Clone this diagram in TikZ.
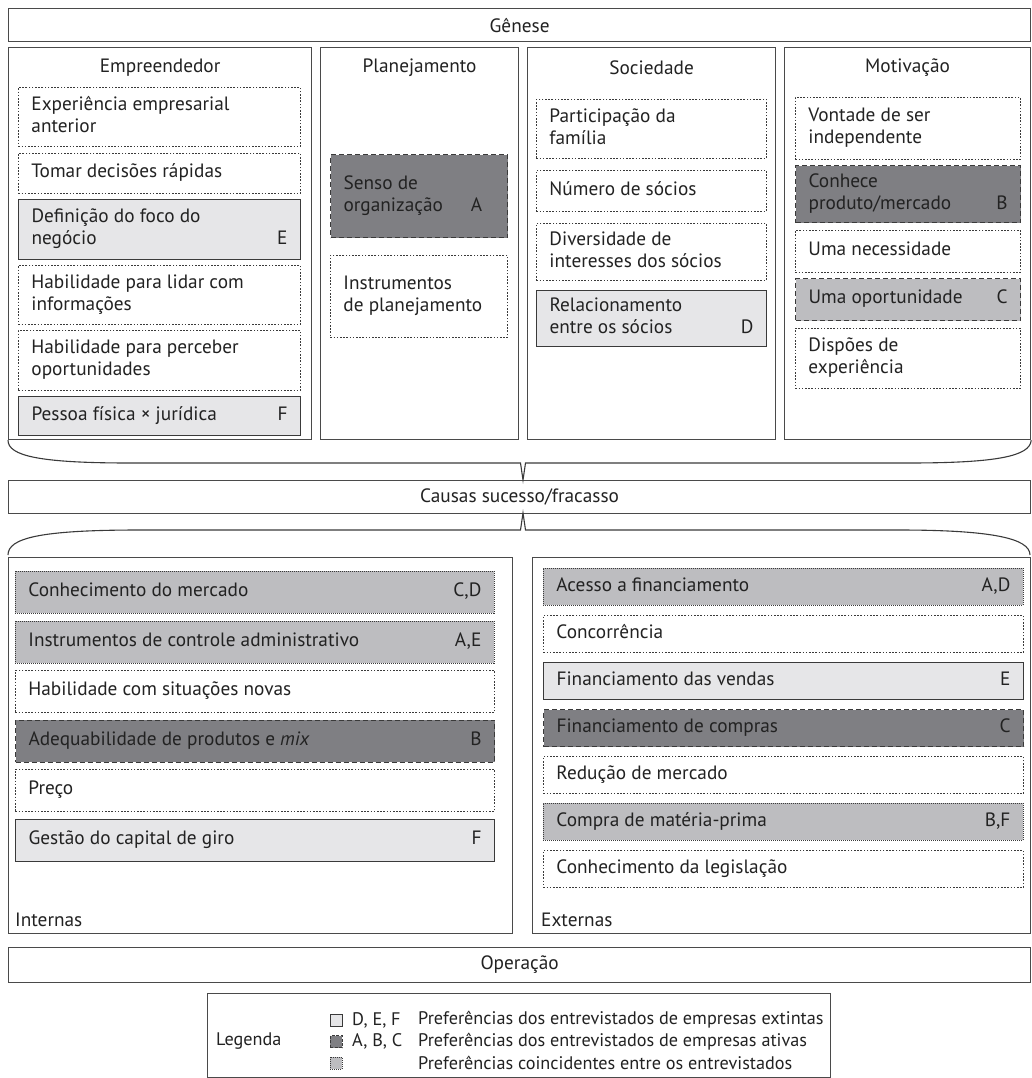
\documentclass[tikz,border=0pt]{standalone}
\usepackage{fontspec}
\setmainfont{PT Sans}
\usetikzlibrary{calc}
\definecolor{lightf}{HTML}{E6E6E8}
\definecolor{darkf}{HTML}{7F7F83}
\definecolor{midf}{HTML}{BDBDC0}
\definecolor{bord}{HTML}{3A3A3A}
\definecolor{frm}{HTML}{4A4A4A}
\definecolor{txtc}{HTML}{222222}
\tikzset{
  every node/.style={font=\fontsize{19.3}{22}\selectfont, inner sep=0pt, text=txtc},
  legtext/.style={font=\fontsize{18.2}{21}\selectfont},
  frame/.style={draw=frm, line width=1.2pt, fill=white},
  dotbox/.style={draw=bord, line width=0.9pt, dash pattern=on 1.6pt off 1.6pt, fill=white},
  solbox/.style={draw=bord, line width=1.1pt, fill=lightf},
  dashbox/.style={draw=bord, line width=1.1pt, dash pattern=on 5pt off 3pt, fill=darkf},
  dashmid/.style={draw=bord, line width=1.1pt, dash pattern=on 5pt off 3pt, fill=midf},
  coinbox/.style={draw=bord, line width=0.8pt, dash pattern=on 1pt off 1pt, fill=midf},
  bracestyle/.style={draw=bord, line width=1.1pt},
}
\newcommand\itm[7]{\node[#2, anchor=north west, minimum width={(#5-#3)*1pt}, minimum height={(#6-#4)*1pt}] (#1) at (#3,#4) {\begin{tabular*}{\dimexpr#5pt-#3pt-26pt\relax}{@{}l@{\extracolsep{\fill}}r@{}}#7\end{tabular*}};}
\newcommand\frm[5]{\node[frame, anchor=north west, minimum width={(#4-#2)*1pt}, minimum height={(#5-#3)*1pt}] (#1) at (#2,#3) {};}
\begin{document}
\begin{tikzpicture}[x=1pt,y=-1pt]
\useasboundingbox (0,0) rectangle (1032,1078);
% Genese
\frm{gen}{8}{8}{1030}{41}
\node (genT) at (gen.center) {Gênese};
% columns
\frm{emp}{8}{47}{311}{439}
\frm{pla}{320}{47}{518}{439}
\frm{soc}{527}{47}{775}{439}
\frm{mot}{784}{47}{1030}{439}
\node (empT) at ($(emp.north)+(0,21)$) {Empreendedor};
\node (plaT) at ($(pla.north)+(0,21)$) {Planejamento};
\node (socT) at ($(soc.north)+(0,21)$) {Sociedade};
\node (motT) at ($(mot.north)+(0,21)$) {Motivação};
% Empreendedor items
\itm{e1}{dotbox}{18}{87}{300}{146}{Experiência empresarial & \\ anterior &}
\itm{e2}{dotbox}{18}{153}{300}{193}{Tomar decisões rápidas &}
\itm{e3}{solbox}{18}{199}{300}{259}{Definição do foco do & \\ negócio & E}
\itm{e4}{dotbox}{18}{265}{300}{324}{Habilidade para lidar com & \\ informações &}
\itm{e5}{dotbox}{18}{330}{300}{390}{Habilidade para perceber & \\ oportunidades &}
\itm{e6}{solbox}{18}{396}{300}{435}{Pessoa física × jurídica & F}
% Planejamento
\itm{p1}{dashbox}{330}{154}{507}{237}{Senso de & \\ organização\hspace{28pt}A &}
\itm{p2}{dotbox}{330}{255}{507}{337}{Instrumentos & \\ de planejamento &}
% Sociedade
\itm{s1}{dotbox}{536}{99}{766}{158}{Participação da & \\ família &}
\itm{s2}{dotbox}{536}{170}{766}{211}{Número de sócios &}
\itm{s3}{dotbox}{536}{223}{766}{280}{Diversidade de & \\ interesses dos sócios &}
\itm{s4}{solbox}{536}{290}{766}{346}{Relacionamento & \\ entre os sócios & D\hspace{6pt}}
% Motivacao
\itm{m1}{dotbox}{795}{97}{1020}{159}{Vontade de ser & \\ independente &}
\itm{m2}{dashbox}{795}{165}{1020}{222}{Conhece & \\ produto/mercado & B}
\itm{m3}{dotbox}{795}{230}{1020}{272}{Uma necessidade &}
\itm{m4}{dashmid}{795}{278}{1020}{320}{Uma oportunidade & C}
\itm{m5}{dotbox}{795}{328}{1020}{388}{Dispões de & \\ experiência &}
% Causas
\frm{cau}{8}{480}{1030}{513}
\node (cauT) at (cau.center) {Causas sucesso/fracasso};
% upper brace
\coordinate (t1) at (523,480);
\draw[bracestyle] (emp.south west) .. controls (8,456) and (40,463) .. (130,463) -- (520.5,463) -- (t1) -- (525.5,463) -- (908,463) .. controls (998,463) and (1030,456) .. (mot.south east);
% lower brace
\coordinate (t2) at (523,513);
\coordinate (lb) at (8,555);
\coordinate (rb) at (1030,555);
\draw[bracestyle] (lb) .. controls (8,538) and (40,530) .. (140,530) -- (520.5,530) -- (t2) -- (525.5,530) -- (898,530) .. controls (990,530) and (1030,538) .. (rb);
% Internas / Externas
\frm{int}{8}{557}{512}{933}
\frm{ext}{532}{557}{1030}{933}
\node[anchor=west] (intT) at (15,920) {Internas};
\node[anchor=west] (extT) at (541,920) {Externas};
\itm{i1}{coinbox}{15}{571}{494}{613}{Conhecimento do mercado & C,D}
\itm{i2}{coinbox}{15}{620.5}{494}{662.5}{Instrumentos de controle administrativo & A,E}
\itm{i3}{dotbox}{15}{670}{494}{712}{Habilidade com situações novas &}
\itm{i4}{dashbox}{15}{719.5}{494}{761.5}{Adequabilidade de produtos e \textit{mix} & B}
\itm{i5}{dotbox}{15}{769}{494}{811}{Preço &}
\itm{i6}{solbox}{15}{818.5}{494}{860.5}{Gestão do capital de giro & F}
\itm{x1}{coinbox}{543}{568}{1023}{605}{Acesso a financiamento & A,D}
\itm{x2}{dotbox}{543}{615}{1023}{652}{Concorrência &}
\itm{x3}{solbox}{543}{662}{1023}{699}{Financiamento das vendas & E}
\itm{x4}{dashbox}{543}{709}{1023}{746}{Financiamento de compras & C}
\itm{x5}{dotbox}{543}{756}{1023}{793}{Redução de mercado &}
\itm{x6}{coinbox}{543}{803}{1023}{840}{Compra de matéria-prima & B,F}
\itm{x7}{dotbox}{543}{850}{1023}{887}{Conhecimento da legislação &}
% Operacao
\frm{ope}{8}{947}{1030}{982}
\node (opeT) at (ope.center) {Operação};
% Legend
\frm{leg}{207}{993}{830}{1077}
\node[legtext, anchor=west] (legT) at (216,1041.5) {Legenda};
\node[solbox, minimum size=12pt, line width=0.9pt] (q1) at (336,1020) {};
\node[dashbox, minimum size=12pt, line width=0.9pt, dash pattern=on 3pt off 1.5pt] (q2) at (336,1041.5) {};
\node[coinbox, minimum size=12pt, line width=0.7pt] (q3) at (336,1063) {};
\node[legtext, anchor=west] (l1) at (352,1020) {D, E, F};
\node[legtext, anchor=west] (l2) at (352,1041.5) {A, B, C};
\node[legtext, anchor=west] (d1) at (418,1020) {Preferências dos entrevistados de empresas extintas};
\node[legtext, anchor=west] (d2) at (418,1041.5) {Preferências dos entrevistados de empresas ativas};
\node[legtext, anchor=west] (d3) at (418,1063) {Preferências coincidentes entre os entrevistados};
\end{tikzpicture}
\end{document}
